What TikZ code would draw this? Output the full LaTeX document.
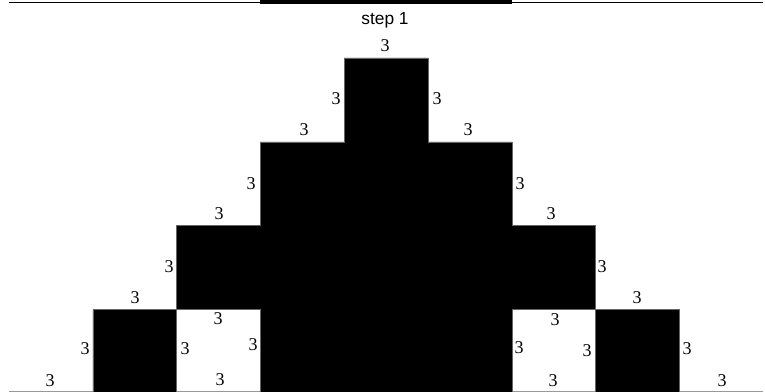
\documentclass[tikz,border=0pt]{standalone}
\usepackage{fontspec}
\setmainfont{Liberation Serif}
\newfontfamily\labsans{Liberation Sans}
\tikzset{
  lab/.style={inner sep=0pt, font=\fontsize{13.5pt}{15pt}\selectfont},
  title/.style={inner sep=0pt, font=\labsans\fontsize{13pt}{15pt}\selectfont},
  blk/.style={fill=black, draw=black!60, line width=0.4pt},
  ground/.style={draw=black!40, line width=0.7pt},
}
\begin{document}
\begin{tikzpicture}[x=0.75pt, y=-0.75pt]
\useasboundingbox (0,0) rectangle (765,392);
% remnant of previous figure at the top
\draw[black, line width=1.1pt] (9,2.7) -- (763,2.7);
\fill[black] (260.4,0) rectangle (511.8,4.2);
% ground line
\draw[ground] (9,391) -- (763,391);
% staircase (step 1)
\path[blk] (92.8,392) -- (92.8,309.4) -- (176.6,309.4) -- (176.6,225.6) -- (260.4,225.6)
  -- (260.4,141.8) -- (344.2,141.8) -- (344.2,58) -- (428,58) -- (428,141.8)
  -- (511.8,141.8) -- (511.8,225.6) -- (595.6,225.6) -- (595.6,309.4) -- (679.4,309.4)
  -- (679.4,392) -- (595.6,392) -- (595.6,309.4) -- (511.8,309.4) -- (511.8,392)
  -- (260.4,392) -- (260.4,309.4) -- (176.6,309.4) -- (176.6,392) -- cycle;
% title
\node[title] (ttl) at (385,20) {step 1};
% labels
\node[lab] (l1) at (385,46) {3};
\node[lab] (l2) at (336,99) {3};
\node[lab] (l3) at (437,99) {3};
\node[lab] (l4) at (304,130) {3};
\node[lab] (l5) at (468,130) {3};
\node[lab] (l6) at (251,184) {3};
\node[lab] (l7) at (520,184) {3};
\node[lab] (l8) at (219,214) {3};
\node[lab] (l9) at (551,214) {3};
\node[lab] (l10) at (169,267) {3};
\node[lab] (l11) at (602,267) {3};
\node[lab] (l12) at (135,298) {3};
\node[lab] (l13) at (637,298) {3};
\node[lab] (l14) at (85,349) {3};
\node[lab] (l15) at (687,349) {3};
\node[lab] (l16) at (50,381) {3};
\node[lab] (l17) at (722,381) {3};
% inside left white square
\node[lab] (w1) at (218,319) {3};
\node[lab] (w2) at (185,349) {3};
\node[lab] (w3) at (253,345) {3};
\node[lab] (w4) at (220,380) {3};
% inside right white square
\node[lab] (w5) at (555,320) {3};
\node[lab] (w6) at (519,348) {3};
\node[lab] (w7) at (587,351) {3};
\node[lab] (w8) at (553,381) {3};
\end{tikzpicture}
\end{document}
